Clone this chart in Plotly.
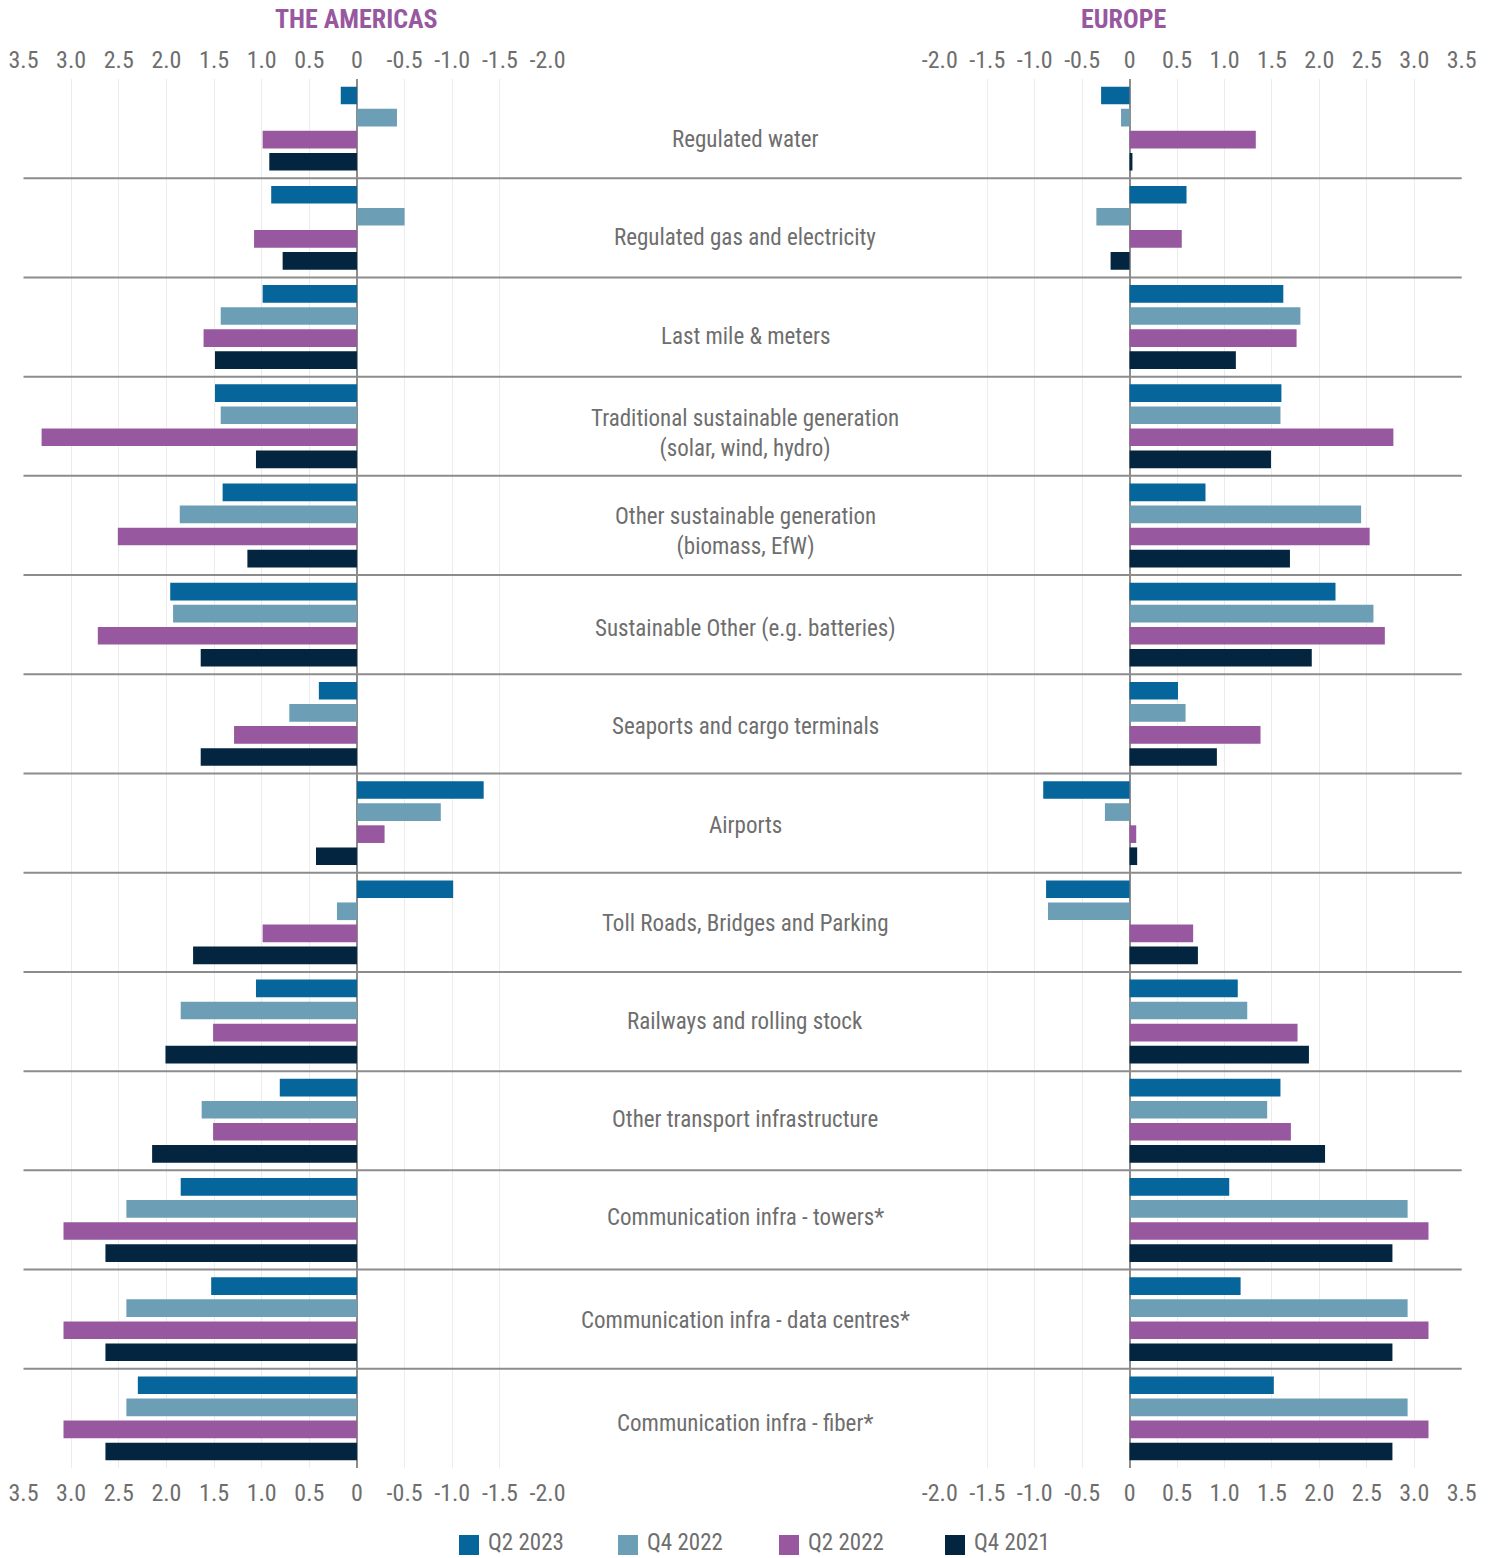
import plotly.graph_objects as go

# ---- data -------------------------------------------------------------
categories = [
    "Regulated water",
    "Regulated gas and electricity",
    "Last mile & meters",
    "Traditional sustainable generation<br>(solar, wind, hydro)",
    "Other sustainable generation<br>(biomass, EfW)",
    "Sustainable Other (e.g. batteries)",
    "Seaports and cargo terminals",
    "Airports",
    "Toll Roads, Bridges and Parking",
    "Railways and rolling stock",
    "Other transport infrastructure",
    "Communication infra - towers*",
    "Communication infra - data centres*",
    "Communication infra - fiber*",
]

series_names = ["Q2 2023", "Q4 2022", "Q2 2022", "Q4 2021"]

americas_q2_2023 = [0.17, 0.90, 0.99, 1.49, 1.41, 1.96, 0.40, -1.33, -1.01, 1.06, 0.81, 1.85, 1.53, 2.30]
americas_q4_2022 = [-0.42, -0.50, 1.43, 1.43, 1.86, 1.93, 0.71, -0.88, 0.21, 1.85, 1.63, 2.42, 2.42, 2.42]
americas_q2_2022 = [0.99, 1.08, 1.61, 3.31, 2.51, 2.72, 1.29, -0.29, 0.99, 1.51, 1.51, 3.08, 3.08, 3.08]
americas_q4_2021 = [0.92, 0.78, 1.49, 1.06, 1.15, 1.64, 1.64, 0.43, 1.72, 2.01, 2.15, 2.64, 2.64, 2.64]

europe_q2_2023 = [-0.30, 0.60, 1.62, 1.60, 0.80, 2.17, 0.51, -0.91, -0.88, 1.14, 1.59, 1.05, 1.17, 1.52]
europe_q4_2022 = [-0.09, -0.35, 1.80, 1.59, 2.44, 2.57, 0.59, -0.26, -0.86, 1.24, 1.45, 2.93, 2.93, 2.93]
europe_q2_2022 = [1.33, 0.55, 1.76, 2.78, 2.53, 2.69, 1.38, 0.07, 0.67, 1.77, 1.70, 3.15, 3.15, 3.15]
europe_q4_2021 = [0.03, -0.20, 1.12, 1.49, 1.69, 1.92, 0.92, 0.08, 0.72, 1.89, 2.06, 2.77, 2.77, 2.77]

left_tick_vals = [3.5, 3.0, 2.5, 2.0, 1.5, 1.0, 0.5, 0.0, -0.5, -1.0, -1.5, -2.0]
left_tick_text = ["3.5", "3.0", "2.5", "2.0", "1.5", "1.0", "0.5", "0", "-0.5", "-1.0", "-1.5", "-2.0"]
right_tick_vals = [-2.0, -1.5, -1.0, -0.5, 0.0, 0.5, 1.0, 1.5, 2.0, 2.5, 3.0, 3.5]
right_tick_text = ["-2.0", "-1.5", "-1.0", "-0.5", "0", "0.5", "1.0", "1.5", "2.0", "2.5", "3.0", "3.5"]

# ---- styling ----------------------------------------------------------
W, H = 1495, 1558
series_colors = ["#06659A", "#6C9EB6", "#9758A0", "#03253F"]
title_color = "#9758A0"
text_color = "#6e6e6e"
FONT = "Roboto Condensed, Liberation Sans, Arial, sans-serif"

# small vertical nudges (px, positive = down) for the centre labels
label_nudge = [11, 10, 9, 7, 6, 4, 3, 2, 1, 0, -1, -2, 1, 5]

americas = [americas_q2_2023, americas_q4_2022, americas_q2_2022, americas_q4_2021]
europe = [europe_q2_2023, europe_q4_2022, europe_q2_2022, europe_q4_2021]


def fx(px):
    return px / W


def fy(py):
    return 1 - py / H


left_dom = [fx(23.5), fx(547.5)]
right_dom = [fx(939.8), fx(1461.7)]
y_dom = [fy(1468), fy(79)]
ypos = list(range(len(categories)))

fig = go.Figure()

for name, color, vals in zip(series_names, series_colors, americas):
    fig.add_trace(go.Bar(x=vals, y=ypos, orientation="h", name=name,
                         marker=dict(color=color, line=dict(width=0)),
                         xaxis="x", yaxis="y", showlegend=False))
for name, color, vals in zip(series_names, series_colors, europe):
    fig.add_trace(go.Bar(x=vals, y=ypos, orientation="h", name=name,
                         marker=dict(color=color, line=dict(width=0)),
                         xaxis="x2", yaxis="y2", showlegend=False))

# invisible anchors so the top tick axes are drawn
for xa, ya in (("x3", "y"), ("x4", "y2")):
    fig.add_trace(go.Scatter(x=[0], y=[0], mode="markers", marker=dict(opacity=0),
                             xaxis=xa, yaxis=ya, showlegend=False, hoverinfo="skip"))

tickfont = dict(family=FONT, size=24, color=text_color)
base_x = dict(showgrid=True, gridcolor="#ececec", gridwidth=1,
              zeroline=True, zerolinecolor="#8d8d8d", zerolinewidth=2,
              showline=False, ticks="", tickfont=tickfont, tickmode="array",
              ticklabelstandoff=8, fixedrange=True, automargin=False)
base_y = dict(domain=y_dom, range=[len(categories) - 0.5, -0.5],
              showticklabels=False, showgrid=False, zeroline=False,
              fixedrange=True, automargin=False)

fig.update_layout(
    width=W, height=H,
    margin=dict(l=0, r=0, t=0, b=0, pad=0, autoexpand=False),
    paper_bgcolor="white", plot_bgcolor="white",
    barmode="group", bargap=0.11, bargroupgap=0.2,
    font=dict(family=FONT, color=text_color),
    xaxis=dict(base_x, domain=left_dom, range=[3.5, -2.0], anchor="y", side="bottom",
               tickvals=left_tick_vals, ticktext=left_tick_text),
    xaxis3=dict(base_x, domain=left_dom, range=[3.5, -2.0], anchor="y", side="top",
                overlaying="x", showgrid=False, zeroline=False, ticklabelstandoff=5,
                tickvals=left_tick_vals, ticktext=left_tick_text),
    xaxis2=dict(base_x, domain=right_dom, range=[-2.0, 3.5], anchor="y2", side="bottom",
                tickvals=right_tick_vals, ticktext=right_tick_text),
    xaxis4=dict(base_x, domain=right_dom, range=[-2.0, 3.5], anchor="y2", side="top",
                overlaying="x2", showgrid=False, zeroline=False, ticklabelstandoff=5,
                tickvals=right_tick_vals, ticktext=right_tick_text),
    yaxis=dict(base_y, anchor="x"),
    yaxis2=dict(base_y, anchor="x2"),
)

shapes = []
annotations = []

# separators between category groups, spanning both panels
for k in range(len(categories) - 1):
    shapes.append(dict(type="line", xref="paper", yref="y", x0=left_dom[0], x1=right_dom[1],
                       y0=k + 0.5, y1=k + 0.5, line=dict(color="#8c8c8c", width=2), layer="above"))

# category labels in the centre column
for k, (cat, nudge) in enumerate(zip(categories, label_nudge)):
    annotations.append(dict(x=fx(745), xref="paper", y=k, yref="y", text=cat, showarrow=False,
                            xanchor="center", yanchor="middle", yshift=-nudge, align="center",
                            font=dict(family=FONT, size=23, color=text_color)))

# panel titles
for label, xc in (("THE AMERICAS", 356), ("EUROPE", 1123)):
    annotations.append(dict(x=fx(xc), xref="paper", y=fy(19), yref="paper", text="<b>%s</b>" % label,
                            showarrow=False, xanchor="center", yanchor="middle",
                            font=dict(family=FONT, size=26, color=title_color)))

# legend
legend_x = [459, 618, 779, 945]
for name, color, lx in zip(series_names, series_colors, legend_x):
    shapes.append(dict(type="rect", xref="paper", yref="paper", x0=fx(lx), x1=fx(lx + 20),
                       y0=fy(1555), y1=fy(1535), fillcolor=color, line=dict(width=0)))
    annotations.append(dict(x=fx(lx + 27), xref="paper", y=0, yref="paper", text=name,
                            showarrow=False, xanchor="left", yanchor="bottom",
                            font=dict(family=FONT, size=23, color=text_color)))

fig.update_layout(shapes=shapes, annotations=annotations)

fig.write_html("out.html")
